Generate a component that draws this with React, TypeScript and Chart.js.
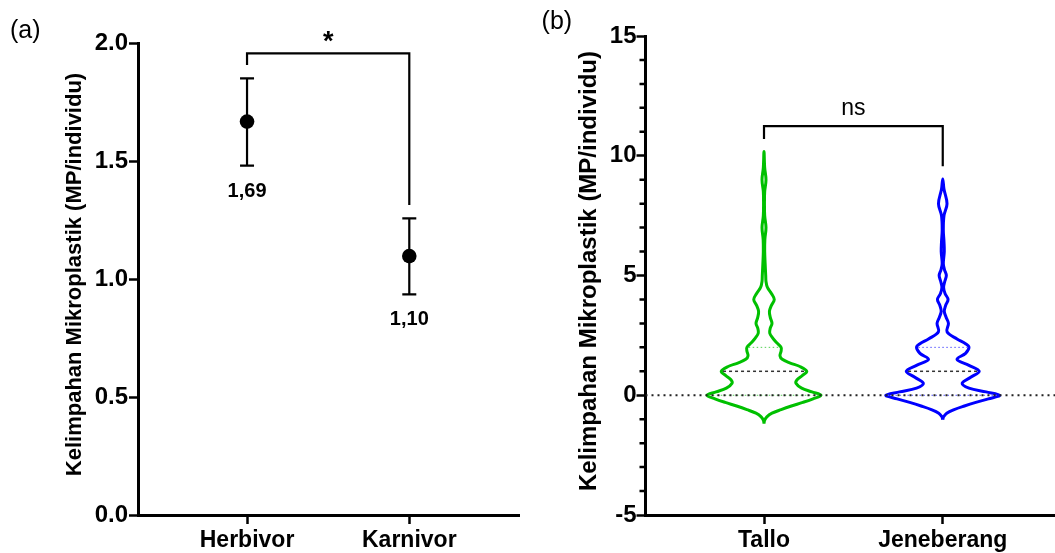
import React, { useEffect, useRef } from 'react';
import { Chart, registerables } from 'chart.js';

Chart.register(...registerables);

const FONT = "'Liberation Sans', Arial, Helvetica, sans-serif";

// ---------- Panel (a) data ----------
const groupsA = ['Herbivor', 'Karnivor'];
const meanA = [1.667, 1.097];
const upperA = [1.85, 1.257];
const lowerA = [1.48, 0.935];
const meanTextA = ['1,69', '1,10'];
const yTicksA = [0, 0.5, 1, 1.5, 2];
const bracketA = [1.956, 1.907, 1.314]; // bar level, left leg end, right leg end
const bracketTextA = '*';

// ---------- Panel (b) data ----------
const groupsB = ['Tallo', 'Jeneberang'];
const yTicksB = [-5, 0, 5, 10, 15];
const yMinorB = [-4, -3, -2, -1, 1, 2, 3, 4, 6, 7, 8, 9, 11, 12, 13, 14];
const talloY = [-1.18, -1.05, -0.9, -0.75, -0.6, -0.45, -0.3, -0.15, 0, 0.14, 0.3, 0.5, 0.65, 0.82, 1.0, 1.2, 1.35, 1.5, 1.65, 1.85, 2.0, 2.2, 2.4, 2.6, 2.8, 3.0, 3.25, 3.5, 3.75, 4.0, 4.25, 4.5, 4.75, 5.0, 5.5, 6.0, 6.5, 7.0, 7.5, 8.0, 8.5, 9.0, 9.5, 10.18];
const talloDensity = [0, 0.01, 0.05, 0.14, 0.3, 0.48, 0.68, 0.86, 1.0, 0.84, 0.66, 0.56, 0.58, 0.67, 0.75, 0.63, 0.45, 0.32, 0.28, 0.3, 0.3, 0.22, 0.15, 0.1, 0.11, 0.14, 0.11, 0.095, 0.13, 0.18, 0.13, 0.06, 0.035, 0.03, 0.02, 0.012, 0.015, 0.035, 0.012, 0.008, 0.012, 0.035, 0.012, 0];
const jeneY = [-1.02, -0.9, -0.75, -0.6, -0.45, -0.3, -0.15, 0, 0.14, 0.3, 0.5, 0.75, 1.0, 1.25, 1.5, 1.75, 2.0, 2.15, 2.35, 2.65, 3.0, 3.25, 3.5, 3.75, 4.0, 4.25, 4.5, 4.75, 5.0, 5.25, 5.5, 6.0, 6.4, 6.9, 7.5, 8.0, 8.6, 9.03];
const jeneDensity = [0, 0.015, 0.07, 0.2, 0.38, 0.58, 0.8, 1.0, 0.76, 0.46, 0.34, 0.49, 0.64, 0.46, 0.25, 0.4, 0.46, 0.4, 0.25, 0.075, 0.1, 0.06, 0.027, 0.05, 0.093, 0.04, 0.015, 0.035, 0.063, 0.03, 0.01, 0.027, 0.022, 0.01, 0.022, 0.075, 0.022, 0];
const q1B = [0, 0];
const medianB = [1, 1];
const q3B = [2, 2];
const bracketB = [11.24, 10.7, 9.56];
const bracketTextB = 'ns';

// ---------- styles ----------
const GREEN = '#00c000';
const BLUE = '#0000ff';
const VIOLIN_HALF = 0.319; // max half width in category units
const AX_MIN = 0.328, AX_MAX = 2.678;
const BX_MIN = 0.337, BX_MAX = 2.628;

function densityAt(ys: number[], ds: number[], v: number) {
  for (let i = 0; i < ys.length - 1; i++) {
    if (v >= ys[i] && v <= ys[i + 1]) {
      const t = (v - ys[i]) / (ys[i + 1] - ys[i]);
      return ds[i] + t * (ds[i + 1] - ds[i]);
    }
  }
  return 0;
}

function violinPoints(center: number, ys: number[], ds: number[]) {
  const right = ys.map((y, i) => ({ x: center + ds[i] * VIOLIN_HALF, y }));
  const left: { x: number; y: number }[] = [];
  for (let i = ys.length - 2; i >= 0; i--) left.push({ x: center - ds[i] * VIOLIN_HALF, y: ys[i] });
  return [...right, ...left];
}

function font(size: number, bold: boolean) {
  return `${bold ? 'bold ' : ''}${size}px ${FONT}`;
}

function axisCommon(tickFontSize: number) {
  return {
    grid: { drawOnChartArea: false, drawTicks: true, tickLength: 9, tickWidth: 2.5, tickColor: '#000' },
    border: { display: true, color: '#000', width: 3 },
    ticks: { color: '#000', font: { family: FONT, size: tickFontSize, weight: 'bold' as const } },
  };
}

function drawRotatedTitle(ctx: CanvasRenderingContext2D, text: string, x: number, y: number, size: number) {
  ctx.save();
  ctx.translate(x, y);
  ctx.rotate(-Math.PI / 2);
  ctx.font = font(size, true);
  ctx.fillStyle = '#000';
  ctx.textAlign = 'center';
  ctx.textBaseline = 'alphabetic';
  ctx.fillText(text, 0, 0);
  ctx.restore();
}

function drawBracket(ctx: CanvasRenderingContext2D, x1: number, x2: number, yBar: number, yL: number, yR: number) {
  ctx.save();
  ctx.strokeStyle = '#000';
  ctx.lineWidth = 2.2;
  ctx.beginPath();
  ctx.moveTo(x1, yL);
  ctx.lineTo(x1, yBar);
  ctx.lineTo(x2, yBar);
  ctx.lineTo(x2, yR);
  ctx.stroke();
  ctx.restore();
}

const TITLE = 'Kelimpahan Mikroplastik (MP/individu)';

export default function App() {
  const refA = useRef<HTMLCanvasElement>(null);
  const refB = useRef<HTMLCanvasElement>(null);

  useEffect(() => {
    const pluginA = {
      id: 'panelA',
      beforeDatasetsDraw(chart: any) {
        const { ctx, scales } = chart;
        const x = scales.x, y = scales.y;
        ctx.save();
        ctx.strokeStyle = '#000';
        ctx.lineWidth = 2.2;
        groupsA.forEach((_, i) => {
          const px = x.getPixelForValue(i + 1);
          const top = y.getPixelForValue(upperA[i]);
          const bot = y.getPixelForValue(lowerA[i]);
          ctx.beginPath();
          ctx.moveTo(px, top); ctx.lineTo(px, bot);
          ctx.moveTo(px - 7, top); ctx.lineTo(px + 7, top);
          ctx.moveTo(px - 7, bot); ctx.lineTo(px + 7, bot);
          ctx.stroke();
        });
        ctx.restore();
        drawBracket(ctx, x.getPixelForValue(1), x.getPixelForValue(2), y.getPixelForValue(bracketA[0]), y.getPixelForValue(bracketA[1]), y.getPixelForValue(bracketA[2]));
      },
      afterDraw(chart: any) {
        const { ctx, scales } = chart;
        const x = scales.x, y = scales.y;
        ctx.save();
        ctx.fillStyle = '#000';
        ctx.textAlign = 'center';
        ctx.textBaseline = 'alphabetic';
        ctx.font = font(20, true);
        groupsA.forEach((_, i) => {
          ctx.fillText(meanTextA[i], x.getPixelForValue(i + 1), y.getPixelForValue(lowerA[i]) + 31);
        });
        ctx.font = font(27, true);
        ctx.fillText(bracketTextA, (x.getPixelForValue(1) + x.getPixelForValue(2)) / 2, y.getPixelForValue(bracketA[0]) - 3);
        ctx.textAlign = 'left';
        ctx.font = font(25, false);
        ctx.fillText('(a)', 10, 37.5);
        ctx.restore();
        drawRotatedTitle(ctx, TITLE, 80.8, 274.5, 22);
      },
    };

    const cA = axisCommon(24);
    const chartA = new Chart(refA.current as HTMLCanvasElement, {
      type: 'scatter',
      data: {
        datasets: [
          {
            data: groupsA.map((_, i) => ({ x: i + 1, y: meanA[i] })),
            pointRadius: 7.3,
            pointBackgroundColor: '#000',
            pointBorderColor: '#000',
            pointBorderWidth: 0,
            showLine: false,
          },
        ],
      },
      options: {
        animation: false,
        responsive: false,
        maintainAspectRatio: false,
        layout: { padding: { left: 0, top: 43, right: 10.7, bottom: 0 } },
        plugins: { legend: { display: false }, tooltip: { enabled: false } },
        scales: {
          x: {
            type: 'linear',
            min: AX_MIN,
            max: AX_MAX,
            afterBuildTicks: (s: any) => { s.ticks = groupsA.map((_, i) => ({ value: i + 1 })); },
            afterFit: (s: any) => { s.height = 38; },
            grid: cA.grid,
            border: cA.border,
            ticks: { ...cA.ticks, font: { family: FONT, size: 23, weight: 'bold' }, padding: 3, maxRotation: 0, autoSkip: false, callback: (v: any) => groupsA[Math.round(v) - 1] ?? '' },
          },
          y: {
            type: 'linear',
            min: 0,
            max: 2,
            afterBuildTicks: (s: any) => { s.ticks = yTicksA.map((v) => ({ value: v })); },
            afterFit: (s: any) => { s.width = 138; },
            grid: cA.grid,
            border: cA.border,
            ticks: { ...cA.ticks, padding: 1, callback: (v: any) => Number(v).toFixed(1) },
          },
        },
      } as any,
      plugins: [pluginA],
    });

    const line = (data: { x: number; y: number }[], color: string, width: number, dash: number[], tension = 0) => ({
      data,
      showLine: true,
      borderColor: color,
      borderWidth: width,
      borderDash: dash,
      pointRadius: 0,
      fill: false,
      tension,
    });

    const quartileLine = (center: number, ys: number[], ds: number[], v: number) => {
      const hw = Math.max(0, densityAt(ys, ds, v) * VIOLIN_HALF - 0.01);
      return [{ x: center - hw, y: v }, { x: center + hw, y: v }];
    };

    const pluginB = {
      id: 'panelB',
      afterDraw(chart: any) {
        const { ctx, scales, chartArea } = chart;
        const x = scales.x, y = scales.y;
        ctx.save();
        ctx.strokeStyle = '#000';
        ctx.lineWidth = 2.5;
        ctx.beginPath();
        yMinorB.forEach((v) => {
          const py = y.getPixelForValue(v);
          ctx.moveTo(chartArea.left - 6, py);
          ctx.lineTo(chartArea.left, py);
        });
        ctx.stroke();
        ctx.restore();
        drawBracket(ctx, x.getPixelForValue(1), x.getPixelForValue(2), y.getPixelForValue(bracketB[0]), y.getPixelForValue(bracketB[1]), y.getPixelForValue(bracketB[2]));
        ctx.save();
        ctx.fillStyle = '#000';
        ctx.textAlign = 'center';
        ctx.textBaseline = 'alphabetic';
        ctx.font = font(23, false);
        ctx.fillText(bracketTextB, (x.getPixelForValue(1) + x.getPixelForValue(2)) / 2, y.getPixelForValue(bracketB[0]) - 11);
        ctx.textAlign = 'left';
        ctx.font = font(25, false);
        ctx.fillText('(b)', 11.6, 28.5);
        ctx.restore();
        drawRotatedTitle(ctx, TITLE, 65.5, 271, 24);
      },
    };

    const cB = axisCommon(24);
    const chartB = new Chart(refB.current as HTMLCanvasElement, {
      type: 'scatter',
      data: {
        datasets: [
          line([{ x: BX_MIN, y: 0 }, { x: BX_MAX, y: 0 }], '#222', 2, [2, 4]),
          line(quartileLine(1, talloY, talloDensity, q1B[0]), '#55d055', 1, [1.5, 2.5]),
          line(quartileLine(1, talloY, talloDensity, q3B[0]), '#55d055', 1, [1.5, 2.5]),
          line(quartileLine(1, talloY, talloDensity, medianB[0]), '#333', 1.5, [3, 3]),
          line(quartileLine(2, jeneY, jeneDensity, q1B[1]), '#5555ff', 1, [1.5, 2.5]),
          line(quartileLine(2, jeneY, jeneDensity, q3B[1]), '#5555ff', 1, [1.5, 2.5]),
          line(quartileLine(2, jeneY, jeneDensity, medianB[1]), '#333', 1.5, [3, 3]),
          line(violinPoints(1, talloY, talloDensity), GREEN, 3, [], 0.35),
          line(violinPoints(2, jeneY, jeneDensity), BLUE, 3, [], 0.35),
        ],
      },
      options: {
        animation: false,
        responsive: false,
        maintainAspectRatio: false,
        layout: { padding: { left: 0, top: 36, right: 0, bottom: 0 } },
        plugins: { legend: { display: false }, tooltip: { enabled: false } },
        scales: {
          x: {
            type: 'linear',
            min: BX_MIN,
            max: BX_MAX,
            afterBuildTicks: (s: any) => { s.ticks = groupsB.map((_, i) => ({ value: i + 1 })); },
            afterFit: (s: any) => { s.height = 38; },
            grid: cB.grid,
            border: cB.border,
            ticks: { ...cB.ticks, font: { family: FONT, size: 23, weight: 'bold' }, padding: 3, maxRotation: 0, autoSkip: false, callback: (v: any) => groupsB[Math.round(v) - 1] ?? '' },
          },
          y: {
            type: 'linear',
            min: -5,
            max: 15,
            afterBuildTicks: (s: any) => { s.ticks = yTicksB.map((v) => ({ value: v })); },
            afterFit: (s: any) => { s.width = 115.5; },
            grid: cB.grid,
            border: cB.border,
            ticks: { ...cB.ticks, padding: 0, callback: (v: any) => String(v) },
          },
        },
      } as any,
      plugins: [pluginB],
    });

    return () => {
      chartA.destroy();
      chartB.destroy();
    };
  }, []);

  return (
    <div style={{ position: 'fixed', left: 0, top: 0, width: 1055, height: 553, background: '#fff', overflow: 'hidden' }}>
      <canvas ref={refA} width={530} height={553} style={{ position: 'absolute', left: 0, top: 0, width: 530, height: 553 }} />
      <canvas ref={refB} width={525} height={553} style={{ position: 'absolute', left: 530, top: 0, width: 525, height: 553 }} />
    </div>
  );
}
